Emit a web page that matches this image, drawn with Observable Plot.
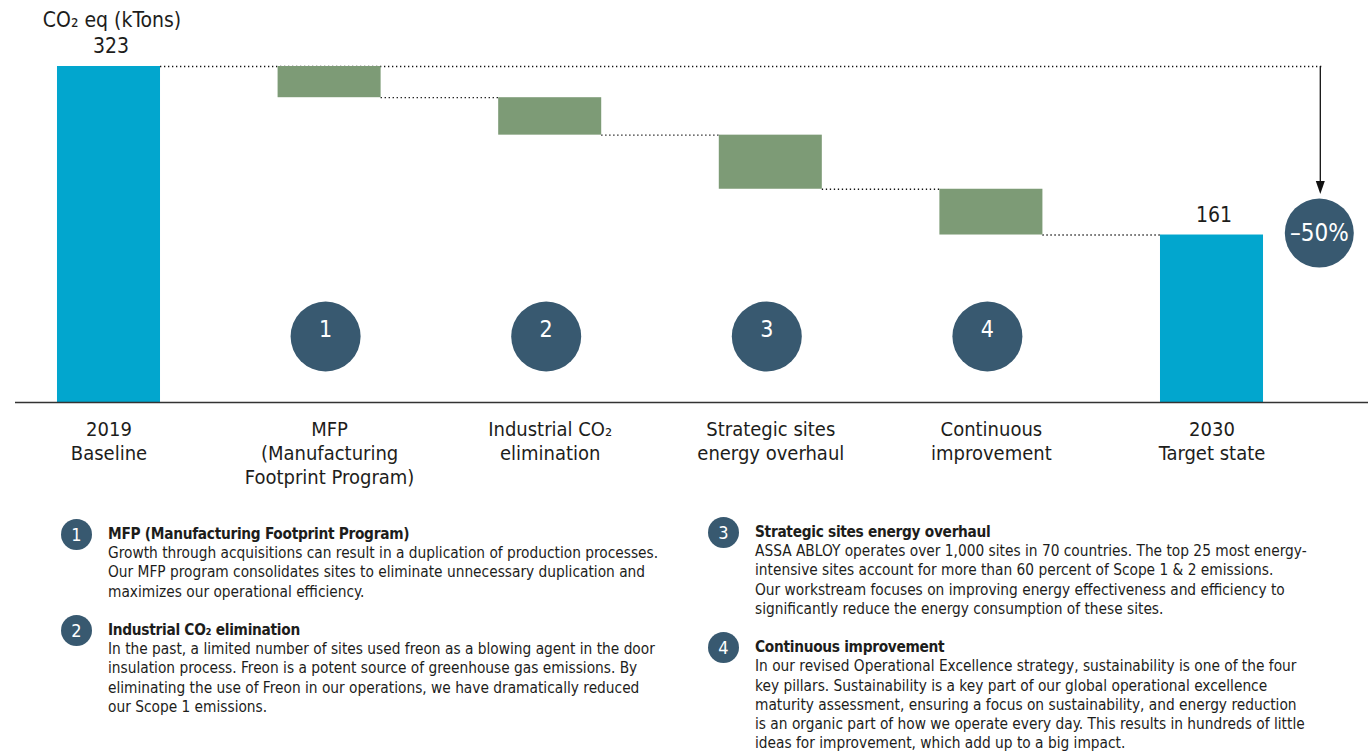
<!DOCTYPE html>
<html><head><meta charset="utf-8">
<script src="https://cdn.jsdelivr.net/npm/d3@7"></script>
<script src="https://cdn.jsdelivr.net/npm/@observablehq/plot@0.6"></script>
<style>
html,body{margin:0;padding:0;background:#fff;}
body{position:relative;width:1368px;height:752px;overflow:hidden;font-family:"Liberation Sans Narrow","DejaVu Sans Condensed",Roboto,sans-serif;color:#1d1d1b;}
#chart{position:absolute;left:0;top:0;}
.notes{position:absolute;font-family:"Liberation Sans Narrow","DejaVu Sans Condensed",Roboto,sans-serif;font-size:15.3px;line-height:19.2px;white-space:nowrap;}
.block{display:flex;align-items:flex-start;margin-bottom:19.2px;}
.badge{flex:none;width:31px;height:31px;border-radius:50%;background:#385970;color:#fff;text-align:center;line-height:31px;margin-top:-5.9px;margin-right:16px;font-size:18px;}
.ntitle{font-weight:bold;letter-spacing:-0.3px;}
</style></head>
<body>
<div id="chart"></div>
<div class="notes" id="notesL" style="left:61px;top:525px"></div>
<div class="notes" id="notesR" style="left:708px;top:523px"></div>
<script>
// ---- data ----
const categories = [
  "2019\nBaseline",
  "MFP\n(Manufacturing\nFootprint Program)",
  "Industrial CO₂\nelimination",
  "Strategic sites\nenergy overhaul",
  "Continuous\nimprovement",
  "2030\nTarget state"
];
const baselineValue = 323;
const targetValue = 161;
const reductions = [30, 36, 52, 44];
const badgeLabels = ["1", "2", "3", "4"];
const changeLabel = "–50%";
const unitLabel = "CO₂ eq (kTons)";
const noteTitles = [
  "MFP (Manufacturing Footprint Program)",
  "Industrial CO₂ elimination",
  "Strategic sites energy overhaul",
  "Continuous improvement"
];
const noteLines = [
  ["Growth through acquisitions can result in a duplication of production processes.",
   "Our MFP program consolidates sites to eliminate unnecessary duplication and",
   "maximizes our operational efficiency."],
  ["In the past, a limited number of sites used freon as a blowing agent in the door",
   "insulation process. Freon is a potent source of greenhouse gas emissions. By",
   "eliminating the use of Freon in our operations, we have dramatically reduced",
   "our Scope 1 emissions."],
  ["ASSA ABLOY operates over 1,000 sites in 70 countries. The top 25 most energy-",
   "intensive sites account for more than 60 percent of Scope 1 & 2 emissions.",
   "Our workstream focuses on improving energy effectiveness and efficiency to",
   "significantly reduce the energy consumption of these sites."],
  ["In our revised Operational Excellence strategy, sustainability is one of the four",
   "key pillars. Sustainability is a key part of our global operational excellence",
   "maturity assessment, ensuring a focus on sustainability, and energy reduction",
   "is an organic part of how we operate every day. This results in hundreds of little",
   "ideas for improvement, which add up to a big impact."]
];
const noteColumns = [0, 0, 1, 1];

// ---- derived tables ----
const hw = 0.2335; // half bar width in category units
const totals = [
  {i: 0, y1: 0, y2: baselineValue},
  {i: categories.length - 1, y1: 0, y2: targetValue}
];
const steps = [];
const connectors = [{x1: 0 + hw, x2: categories.length - 0.5, y: baselineValue}];
let level = baselineValue;
reductions.forEach((r, k) => {
  const i = k + 1;
  steps.push({i, y1: level, y2: level - r});
  level -= r;
  connectors.push({x1: i + hw, x2: i + 1 - hw, y: level});
});
const annX = categories.length - 0.5;

const FONT = '"Liberation Sans Narrow","DejaVu Sans Condensed",Roboto,sans-serif';
const triangle = {draw(ctx) { ctx.moveTo(-4.5, -13); ctx.lineTo(4.5, -13); ctx.lineTo(0, 0); ctx.closePath(); }};

const chart = Plot.plot({
  width: 1368,
  height: 493,
  marginTop: 66,
  marginBottom: 91,
  marginLeft: 15,
  marginRight: 0,
  style: {fontFamily: FONT, fontSize: "20px", color: "#1d1d1b", background: "#fff"},
  x: {type: "linear", domain: [0, categories.length - 1], range: [108.5, 1211.5]},
  y: {domain: [0, baselineValue], axis: null},
  marks: [
    Plot.ruleY(connectors, {x1: "x1", x2: "x2", y: "y", stroke: "#111", strokeWidth: 1.3, strokeDasharray: "1.3,2.7"}),
    Plot.rectY(totals, {x1: d => d.i - hw, x2: d => d.i + hw, y1: "y1", y2: "y2", fill: "#02a6ce"}),
    Plot.rectY(steps, {x1: d => d.i - hw, x2: d => d.i + hw, y1: "y1", y2: "y2", fill: "#7d9b76"}),
    Plot.ruleY([0], {stroke: "#333", strokeWidth: 1.6}),
    Plot.axisX(d3.range(categories.length), {tickFormat: i => categories[i], tickSize: 0, tickPadding: 16, fontSize: 20, lineHeight: 1.2, label: null}),
    Plot.dot(badgeLabels, {x: (d, k) => k + 1, frameAnchor: "bottom", dy: -66, dx: -4, r: 35, fill: "#385970"}),
    Plot.text(badgeLabels, {x: (d, k) => k + 1, frameAnchor: "bottom", dy: -66, dx: -4, text: d => d, fill: "#fff", fontSize: 23}),
    Plot.text(totals, {x: "i", y: "y2", text: d => String(d.y2), dy: -20, dx: 2, fontSize: 21}),
    Plot.text([unitLabel], {x: 0, y: baselineValue, text: d => d, dy: -46, dx: 3, fontSize: 21}),
    Plot.ruleX([annX], {y1: baselineValue, y2: targetValue, insetBottom: 48, dx: -2, stroke: "#111", strokeWidth: 1.3}),
    Plot.dot([annX], {x: d => d, y: targetValue, dy: -41, dx: -2, symbol: triangle, fill: "#111", stroke: "none"}),
    Plot.dot([annX], {x: d => d, y: targetValue, dy: -2, dx: -3, r: 34.5, fill: "#385970"}),
    Plot.text([changeLabel], {x: annX, y: targetValue, dy: -2, dx: -3, text: d => d, fill: "#fff", fontSize: 24})
  ]
});
document.getElementById("chart").append(chart);

// ---- notes ----
noteTitles.forEach((t, k) => {
  const col = document.getElementById(noteColumns[k] ? "notesR" : "notesL");
  const b = document.createElement("div"); b.className = "block";
  const badge = document.createElement("div"); badge.className = "badge"; badge.textContent = badgeLabels[k];
  const txt = document.createElement("div");
  const h = document.createElement("div"); h.className = "ntitle"; h.textContent = t;
  txt.append(h);
  noteLines[k].forEach(l => { const d = document.createElement("div"); d.textContent = l; txt.append(d); });
  b.append(badge, txt); col.append(b);
});
</script>
</body></html>
